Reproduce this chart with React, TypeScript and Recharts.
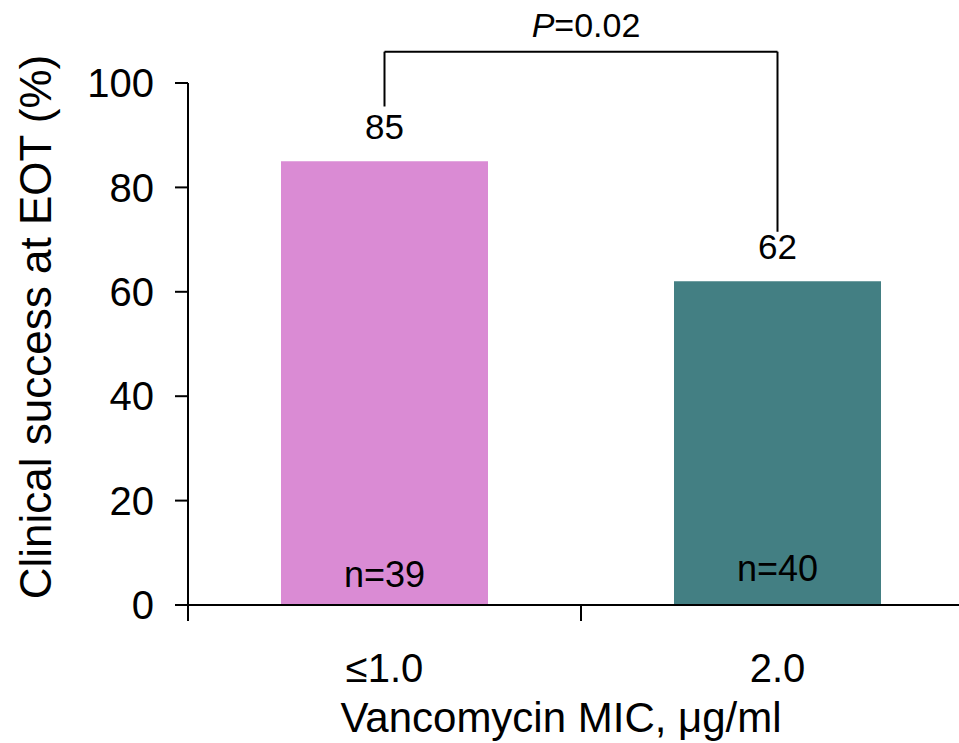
import React from 'react';
import { BarChart, Bar, XAxis, YAxis, Cell, LabelList, ReferenceLine } from 'recharts';

const categories = ['≤1.0', '2.0'];
const successRates = [85, 62];
const sampleSizes = ['n=39', 'n=40'];
const barColors = ['#DA8BD4', '#437F83'];
const yTicks = [0, 20, 40, 60, 80, 100];

// significance bracket, in data units
const bracketTop = 106;
const bracketLeftBottom = 95.5;
const bracketRightBottom = 71.5;
const pValue = '0.02';

const data = categories.map((c, i) => ({
  name: c,
  value: successRates[i],
  n: sampleSizes[i],
}));

const FONT = '"Liberation Sans", Arial, Helvetica, sans-serif';

const CategoryTick = (props: any) => {
  const { x, y, payload } = props;
  const edge = x - (payload.offset || 0);
  return (
    <g>
      <line x1={edge} y1={y} x2={edge} y2={y + 16} stroke="#000" strokeWidth={2} />
      <text x={x} y={y + 77} textAnchor="middle" fontSize={40} fontFamily={FONT} fill="#000">
        {payload.value}
      </text>
    </g>
  );
};

const ValueLabel = (props: any) => {
  const { x, y, width, value } = props;
  return (
    <text x={x + width / 2} y={y - 22} textAnchor="middle" fontSize={35} fontFamily={FONT} fill="#000">
      {value}
    </text>
  );
};

const CountLabel = (props: any) => {
  const { x, y, width, height, value, index } = props;
  return (
    <text
      x={x + width / 2}
      y={y + height - (index === 0 ? 18 : 24)}
      textAnchor="middle"
      fontSize={36}
      fontFamily={FONT}
      fill="#000"
    >
      {value}
    </text>
  );
};

const App: React.FC = () => {
  return (
    <div style={{ position: 'absolute', left: 0, top: 0, width: 959, height: 743, background: '#fff' }}>
      <BarChart
        width={959}
        height={743}
        data={data}
        margin={{ top: 83, right: -15, bottom: 0, left: 0 }}
        barCategoryGap={93}
      >
        <XAxis
          dataKey="name"
          height={138}
          axisLine={{ stroke: '#000', strokeWidth: 2 }}
          tickLine={false}
          tickSize={0}
          tickMargin={0}
          tick={<CategoryTick />}
          interval={0}
          label={(p: any) => {
            const vb = p.viewBox;
            return (
              <text x={vb.x + 373} y={vb.y + 127} textAnchor="middle" fontSize={42} fontFamily={FONT} fill="#000">
                Vancomycin MIC, μg/ml
              </text>
            );
          }}
        />
        <YAxis
          width={188}
          domain={[0, 100]}
          ticks={yTicks}
          interval={0}
          axisLine={{ stroke: '#000', strokeWidth: 2 }}
          tickLine={{ stroke: '#000', strokeWidth: 2 }}
          tickSize={13}
          tickMargin={21}
          tick={{ fontSize: 40, fontFamily: FONT, fill: '#000' }}
          label={(p: any) => {
            const vb = p.viewBox;
            const cx = 51;
            const cy = vb.y + vb.height / 2 - 17;
            return (
              <text
                x={cx}
                y={cy}
                transform={`rotate(-90 ${cx} ${cy})`}
                textAnchor="middle"
                fontSize={44}
                fontFamily={FONT}
                fill="#000"
              >
                Clinical success at EOT (%)
              </text>
            );
          }}
        />
        <Bar dataKey="value" isAnimationActive={false}>
          {data.map((d, i) => (
            <Cell key={d.name} fill={barColors[i]} />
          ))}
          <LabelList dataKey="value" content={<ValueLabel />} />
          <LabelList dataKey="n" content={<CountLabel />} />
        </Bar>
        <ReferenceLine
          ifOverflow="visible"
          stroke="#000"
          strokeWidth={2}
          segment={[
            { x: categories[0], y: bracketTop },
            { x: categories[1], y: bracketTop },
          ]}
          label={(p: any) => {
            const vb = p.viewBox;
            return (
              <text x={vb.x + vb.width / 2 + 5} y={vb.y - 15} textAnchor="middle" fontSize={34} fontFamily={FONT} fill="#000">
                <tspan fontStyle="italic">P</tspan>={pValue}
              </text>
            );
          }}
        />
        <ReferenceLine
          ifOverflow="visible"
          stroke="#000"
          strokeWidth={2}
          segment={[
            { x: categories[0], y: bracketTop },
            { x: categories[0], y: bracketLeftBottom },
          ]}
        />
        <ReferenceLine
          ifOverflow="visible"
          stroke="#000"
          strokeWidth={2}
          segment={[
            { x: categories[1], y: bracketTop },
            { x: categories[1], y: bracketRightBottom },
          ]}
        />
      </BarChart>
    </div>
  );
};

export default App;
